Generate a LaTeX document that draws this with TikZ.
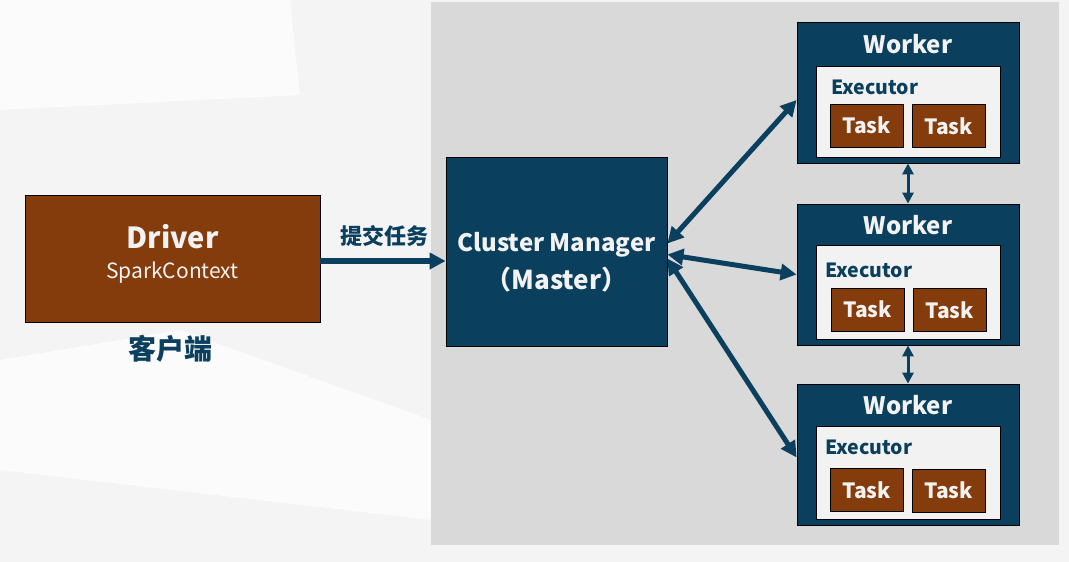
\documentclass[tikz,border=0pt]{standalone}
\usepackage{fontspec}
\setmainfont{Noto Sans CJK SC}
\usepackage{xcolor}
\usepackage{tikz}
\usetikzlibrary {arrows.meta,backgrounds,positioning}

\definecolor{navy}{HTML}{0B3F5E}
\definecolor{rust}{HTML}{843C0C}
\definecolor{panel}{HTML}{D9D9D9}
\definecolor{execfill}{HTML}{F2F2F2}
\definecolor{paper}{HTML}{F4F4F4}
\definecolor{sheen}{HTML}{FBFBFB}
\definecolor{ink}{HTML}{F2F2F2}

\tikzset{
  box/.style={draw=black, line width=0.8pt, inner sep=0pt},
  taskbox/.style={box, fill=rust, minimum width=73pt, minimum height=43pt, text=ink,
    font=\bfseries\fontsize{21}{24}\selectfont},
  workerbox/.style={box, fill=navy, minimum width=222pt, minimum height=141pt},
  execbox/.style={box, fill=execfill, minimum width=184pt},
  workername/.style={text=ink, font=\bfseries\fontsize{24}{28}\selectfont},
  execname/.style={text=navy, anchor=west, inner sep=0pt, font=\bfseries\fontsize{19.5}{23}\selectfont},
  link/.style={draw=navy, line width=5.5pt, -{Triangle[length=16pt,width=16pt]}},
  dlink/.style={draw=navy, line width=5pt, {Triangle[length=16pt,width=16pt]}-{Triangle[length=16pt,width=16pt]}},
  vlink/.style={draw=navy, line width=3pt, {Triangle[length=11pt,width=11pt]}-{Triangle[length=11pt,width=11pt]}}
}

\begin{document}
\begin{tikzpicture}[x=1pt, y=-1pt]

\useasboundingbox (0,0) rectangle (1069,562);
\fill [paper] (0,0) rectangle (1069,562);
\fill [sheen] (0,0) -- (290,0) -- (300,95) -- (0,110) -- cycle;
\fill [sheen] (0,360) -- (180,330) -- (431,420) -- (431,520) -- (0,470) -- cycle;
\fill [panel] (431,2) rectangle (1059,545);

\node (driver) at (172.5,258.5) [box, fill=rust, minimum width=295pt, minimum height=127pt] {};
\node (drvname) at (172.5,237) [text=ink, font=\bfseries\fontsize{29}{32}\selectfont] {Driver};
\node (drvctx) at (172.5,273) [text=ink, font=\fontsize{21}{24}\selectfont] {SparkContext};
\node (client) at (170,349) [text=navy, font=\bfseries\fontsize{28}{32}\selectfont] {客户端};

\node (cm) at (556.5,251.5) [box, fill=navy, minimum width=221pt, minimum height=189pt] {};
\node (cmname) at (556.5,245) [text=ink, font=\bfseries\fontsize{24}{28}\selectfont] {Cluster Manager};
\node (cmrole) at (556.5,280) [text=ink, font=\bfseries\fontsize{26}{30}\selectfont] {（Master）};

\node (submit) at (384,236) [text=navy, font=\bfseries\fontsize{22}{26}\selectfont] {提交任务};
\draw [link] ([yshift=-2.5pt]driver.east) -- ([yshift=-2.5pt]driver.east -| cm.west);

\node (w1) at (908,92.5) [workerbox] {};
\node (w1name) at (908,44) [workername] {Worker};
\node (e1) at (908,111.5) [execbox, minimum height=91pt] {};
\node (e1name) at (831,87) [execname] {Executor};
\node (t11) at (866.5,125.5) [taskbox] {Task};
\node (t12) at (948.5,126) [taskbox] {Task};

\node (w2) at (908,274.5) [workerbox] {};
\node (w2name) at (908,225) [workername] {Worker};
\node (e2) at (908,292) [execbox, minimum height=94pt] {};
\node (e2name) at (825,270) [execname] {Executor};
\node (t21) at (867.5,309.5) [taskbox] {Task};
\node (t22) at (949.5,310) [taskbox] {Task};

\node (w3) at (908,454.5) [workerbox] {};
\node (w3name) at (908,405) [workername] {Worker};
\node (e3) at (908,472.5) [execbox, minimum height=93pt] {};
\node (e3name) at (825,447) [execname] {Executor};
\node (t31) at (866.5,490) [taskbox] {Task};
\node (t32) at (948.5,490.5) [taskbox] {Task};

\draw [dlink] ([yshift=8pt]cm.east) -- ([yshift=-7.5pt]w1.west);
\draw [dlink] ([yshift=-3pt]cm.east) -- (w2.west);
\draw [dlink] ([yshift=-7pt]cm.east) -- ([yshift=-3pt]w3.west);
\draw [vlink] (w1.south) -- (w2.north);
\draw [vlink] (w2.south) -- (w3.north);

\end{tikzpicture}
\end{document}
